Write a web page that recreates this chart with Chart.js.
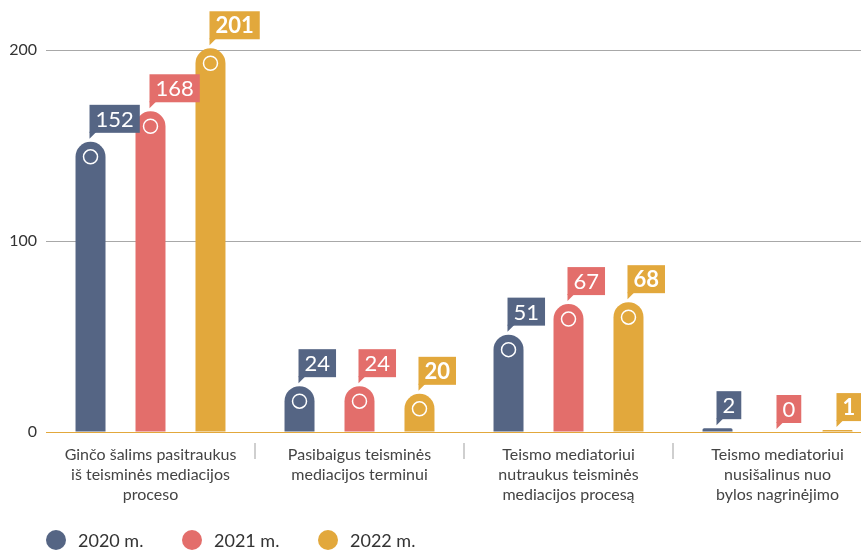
<!DOCTYPE html>
<html lang="lt">
<head>
<meta charset="utf-8">
<script src="https://cdn.jsdelivr.net/npm/chart.js@4"></script>
<style>
  html, body { margin: 0; padding: 0; background: #fff; overflow: hidden; }
  .wrap { position: relative; width: 882px; height: 550px; }
  .legenda { position: absolute; left: 46px; top: 529px; display: flex; font-family: Lato, sans-serif; font-size: 18px; color: #333; }
  .legenda .item { display: flex; align-items: center; width: 136px; }
  .legenda i { display: inline-block; width: 20px; height: 20px; border-radius: 50%; margin-right: 12px; }
</style>
</head>
<body>
<div class="wrap">
  <canvas id="grafikas"></canvas>
  <div class="legenda"></div>
</div>
<script>
// duomenys
const kategorijos = [
  ["Ginčo šalims pasitraukus", "iš teisminės mediacijos", "proceso"],
  ["Pasibaigus teisminės", "mediacijos terminui"],
  ["Teismo mediatoriui", "nutraukus teisminės", "mediacijos procesą"],
  ["Teismo mediatoriui", "nusišalinus nuo", "bylos nagrinėjimo"]
];
const metai = ["2020 m.", "2021 m.", "2022 m."];
const v2020 = [152, 24, 51, 2];
const v2021 = [168, 24, 67, 0];
const v2022 = [201, 20, 68, 1];
const yTicks = [0, 100, 200];
const spalvos = ["#556584", "#e36e6b", "#e2a83c"];

const serijos = [v2020, v2021, v2022];

// skaiciai virs stulpeliu + balti apskritimai
const zymos = {
  id: "zymos",
  afterDatasetsDraw(chart) {
    const ctx = chart.ctx;
    ctx.save();
    chart.data.datasets.forEach((ds, i) => {
      chart.getDatasetMeta(i).data.forEach((bar, j) => {
        const val = ds.data[j];
        const x = bar.x, y = bar.y;
        if (bar.base - y > 30) {
          ctx.beginPath();
          ctx.arc(x, y + 15, 7, 0, Math.PI * 2);
          ctx.strokeStyle = "#fff";
          ctx.lineWidth = 1.5;
          ctx.stroke();
        }
        ctx.font = (i === 2 ? "bold " : "") + "22px Lato";
        const w = ctx.measureText(String(val)).width + 12;
        const h = 28, apacia = y - 9, kaire = x - 1;
        ctx.fillStyle = ds.backgroundColor;
        ctx.fillRect(kaire, apacia - h, w, h);
        ctx.beginPath();
        ctx.moveTo(kaire, apacia - 1);
        ctx.lineTo(kaire + 7, apacia - 1);
        ctx.lineTo(kaire, apacia + 6);
        ctx.closePath();
        ctx.fill();
        ctx.fillStyle = "#fff";
        ctx.textAlign = "center";
        ctx.textBaseline = "middle";
        ctx.fillText(String(val), kaire + w / 2, apacia - h / 2 + 1);
      });
    });
    ctx.restore();
  },
  afterDraw(chart) {
    // bruksniai tarp kategoriju
    const ctx = chart.ctx, xs = chart.scales.x;
    ctx.save();
    ctx.strokeStyle = "#cfcfcf";
    ctx.lineWidth = 2;
    for (let i = 1; i < kategorijos.length; i++) {
      const x = Math.round((xs.getPixelForValue(i - 1) + xs.getPixelForValue(i)) / 2);
      ctx.beginPath();
      ctx.moveTo(x, xs.top + 11);
      ctx.lineTo(x, xs.top + 27);
      ctx.stroke();
    }
    ctx.restore();
  }
};

new Chart(document.getElementById("grafikas"), {
  type: "bar",
  data: {
    labels: kategorijos,
    datasets: metai.map((m, i) => ({
      label: m,
      data: serijos[i],
      backgroundColor: spalvos[i],
      borderRadius: { topLeft: 15, topRight: 15 },
      borderSkipped: "start",
      barPercentage: 0.5,
      categoryPercentage: 0.861
    }))
  },
  options: {
    responsive: true,
    maintainAspectRatio: false,
    animation: false,
    layout: { padding: { top: 12, left: 0, right: 0, bottom: 0 } },
    plugins: { legend: { display: false }, tooltip: { enabled: false } },
    scales: {
      x: {
        grid: { display: false, drawTicks: false },
        border: { display: false },
        ticks: { color: "#444", font: { family: "Lato", size: 16, lineHeight: 1.25 }, padding: 13, maxRotation: 0, autoSkip: false },
        afterFit: s => { s.height = 118; }
      },
      y: {
        min: 0,
        max: 220,
        afterBuildTicks: s => { s.ticks = yTicks.map(v => ({ value: v })); },
        grid: {
          drawTicks: false,
          color: c => c.tick && c.tick.value === 0 ? spalvos[2] : "#a8a8a8",
          lineWidth: 1
        },
        border: { display: false },
        ticks: { color: "#333", font: { family: "Lato", size: 16 }, padding: 9 },
        afterFit: s => { s.width = 46; s.paddingTop = 0; s.paddingBottom = 0; }
      }
    }
  },
  plugins: [zymos]
});

// legenda
document.querySelector(".legenda").innerHTML = metai.map((m, i) =>
  `<span class="item"><i style="background:${spalvos[i]}"></i>${m}</span>`
).join("");
</script>
</body>
</html>
